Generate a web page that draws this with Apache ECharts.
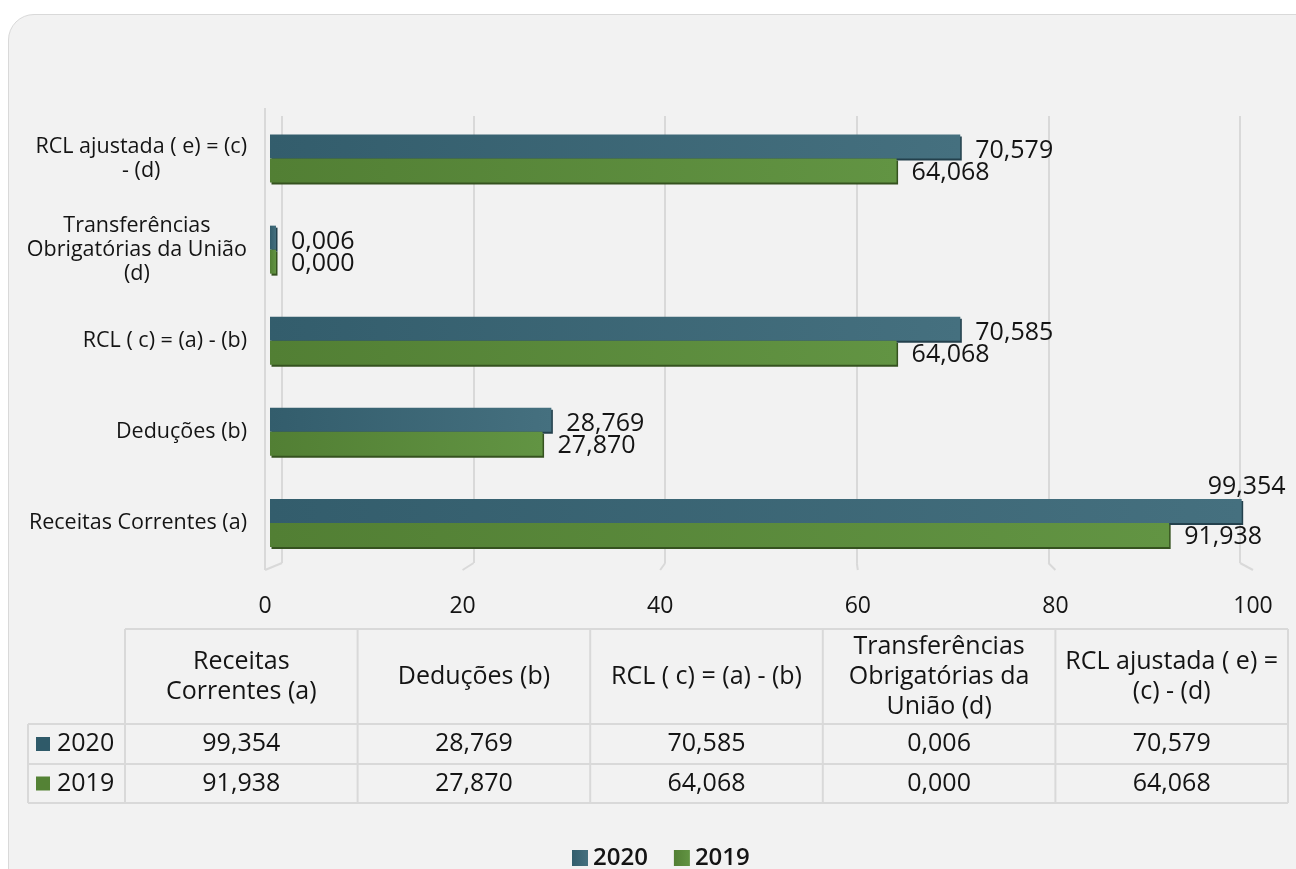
<!DOCTYPE html>
<html>
<head>
<meta charset="utf-8">
<script src="https://cdn.jsdelivr.net/npm/echarts@6/dist/echarts.min.js"></script>
<style>
  html, body { margin: 0; padding: 0; background: #ffffff; overflow: hidden; }
  #panel {
    position: absolute; left: 8px; top: 14px; width: 1330px; height: 900px;
    background: #f2f2f2; border: 1.5px solid #d9d9d9; border-radius: 26px; box-sizing: border-box;
  }
  #chart { position: absolute; left: 0; top: 0; width: 1296px; height: 869px; }
</style>
</head>
<body>
<div id="panel"></div>
<div id="chart"></div>
<script>
// ---- data ----
const categories = [
  'Receitas Correntes (a)',
  'Deduções (b)',
  'RCL ( c) = (a) - (b)',
  'Transferências Obrigatórias da União (d)',
  'RCL ajustada ( e) = (c) - (d)'
];
const axisLabelLines = [
  ['Receitas Correntes (a)'],
  ['Deduções (b)'],
  ['RCL ( c) = (a) - (b)'],
  ['Transferências', 'Obrigatórias da União', '(d)'],
  ['RCL ajustada ( e) = (c)', '- (d)']
];
const tableHeaderLines = [
  ['Receitas', 'Correntes (a)'],
  ['Deduções (b)'],
  ['RCL ( c) = (a) - (b)'],
  ['Transferências', 'Obrigatórias da', 'União (d)'],
  ['RCL ajustada ( e) =', '(c) - (d)']
];
const seriesNames = ['2020', '2019'];
const values2020 = [99.354, 28.769, 70.585, 0.006, 70.579];
const values2019 = [91.938, 27.870, 64.068, 0.000, 64.068];
const xTicks = [0, 20, 40, 60, 80, 100];

// ---- styling ----
const FONT = 'Open Sans';
const TEXT = '#141414';
const GRID_LINE = '#d9d9d9';
const C2020 = '#2f5a69';
const C2019 = '#548235';

// plot layout: bars sit in the middle plane, the back wall carries the grid lines,
// the front floor edge carries the tick labels
const barGrid   = { left: 270, top: 113, width: 978, height: 455.5 };
const backGrid  = { left: 282, top: 116, width: 958, height: 447 };
const frontGrid = { left: 265, top: 108, width: 988, height: 462 };

// data table layout
const table = { left: 28, keyRight: 125, right: 1288, top: 629, headRow: 724, row1: 764, row2: 803 };

const fmt = v => v.toFixed(3).replace('.', ',');

function grad(c1, c2) {
  return new echarts.graphic.LinearGradient(0, 0, 1, 0, [
    { offset: 0, color: c1 }, { offset: 1, color: c2 }
  ]);
}

const chart = echarts.init(document.getElementById('chart'), null, { renderer: 'canvas' });

const gridBox = g => ({ left: g.left, top: g.top, width: g.width, height: g.height, containLabel: false });

const option = {
  backgroundColor: 'transparent',
  animation: false,
  textStyle: { fontFamily: FONT, color: TEXT },
  grid: [gridBox(barGrid), gridBox(backGrid), gridBox(frontGrid)],
  xAxis: [
    { type: 'value', gridIndex: 0, min: 0, max: 100, interval: 20,
      axisLine: { show: false }, axisTick: { show: false }, axisLabel: { show: false },
      splitLine: { show: false } },
    { type: 'value', gridIndex: 1, min: 0, max: 100, interval: 20,
      axisLine: { show: false }, axisTick: { show: false }, axisLabel: { show: false },
      splitLine: { show: true, lineStyle: { color: GRID_LINE, width: 2 } } },
    { type: 'value', gridIndex: 2, min: 0, max: 100, interval: 20,
      axisLine: { show: false }, axisTick: { show: false }, splitLine: { show: false },
      axisLabel: { show: true, margin: 25, fontSize: 23, color: TEXT, fontFamily: FONT,
        customValues: xTicks } }
  ],
  yAxis: [
    { type: 'category', gridIndex: 0, data: categories,
      axisLine: { show: false }, axisTick: { show: false }, splitLine: { show: false },
      axisLabel: {
        margin: 23, align: 'right', color: TEXT, fontSize: 21.5, fontFamily: FONT,
        formatter: (v, i) => axisLabelLines[i].map(l => '{c|' + l + '}').join('\n'),
        rich: { c: { align: 'center', fontSize: 21.5, lineHeight: 24, fontFamily: FONT, color: TEXT } }
      } },
    { type: 'value', gridIndex: 1, show: false, min: 0, max: 1 },
    { type: 'value', gridIndex: 2, show: false, min: 0, max: 1 }
  ],
  legend: {
    data: seriesNames,
    left: 572, top: 846, padding: 0,
    icon: 'rect', itemWidth: 16, itemHeight: 16, itemGap: 26,
    textStyle: { fontSize: 24, fontWeight: 600, color: TEXT, fontFamily: FONT }
  },
  series: [
    {
      name: seriesNames[0], type: 'bar', xAxisIndex: 0, yAxisIndex: 0,
      barWidth: 24, barGap: '0%', barMinHeight: 6,
      itemStyle: { color: grad('#335d6c', '#45707f'),
        shadowColor: '#23404c', shadowOffsetX: 1.5, shadowOffsetY: 2, shadowBlur: 0 },
      label: { show: true, position: 'right', distance: 15, offset: [0, 4],
        fontSize: 25, color: TEXT, fontFamily: FONT, formatter: p => fmt(p.value) },
      data: values2020.map((v, i) => i === 0
        ? { value: v, label: { offset: [-49, -24] } }
        : v),
      z: 2
    },
    {
      name: seriesNames[1], type: 'bar', xAxisIndex: 0, yAxisIndex: 0,
      barWidth: 24, barGap: '0%', barMinHeight: 6,
      itemStyle: { color: grad('#527f34', '#629443'),
        shadowColor: '#35521f', shadowOffsetX: 1.5, shadowOffsetY: 2, shadowBlur: 0 },
      label: { show: true, position: 'right', distance: 15, offset: [0, 2],
        fontSize: 25, color: TEXT, fontFamily: FONT, formatter: p => fmt(p.value) },
      data: values2019,
      z: 3
    }
  ]
};

chart.setOption(option);

// ---- back-wall / floor edges and the data table ----
function buildGraphics() {
  const els = [];
  const line = (x1, y1, x2, y2, color, w) => ({
    type: 'line', silent: true, z: -1,
    shape: { x1, y1, x2, y2 }, style: { stroke: color, lineWidth: w }
  });
  const backBottom = backGrid.top + backGrid.height;
  const frontBottom = frontGrid.top + frontGrid.height;

  // floor edges joining the back wall grid lines to the front edge
  xTicks.forEach(v => {
    const xb = chart.convertToPixel({ xAxisIndex: 1 }, v);
    const xf = chart.convertToPixel({ xAxisIndex: 2 }, v);
    els.push(line(xb, backBottom, xf, frontBottom, GRID_LINE, 2));
  });
  // front edge of the left wall
  const x0 = chart.convertToPixel({ xAxisIndex: 2 }, 0);
  els.push(line(x0, frontGrid.top, x0, frontBottom, GRID_LINE, 2));

  // data table
  const colW = (table.right - table.keyRight) / categories.length;
  const colX = i => table.keyRight + colW * i;
  const tl = (x1, y1, x2, y2) => line(x1, y1, x2, y2, GRID_LINE, 2);
  els.push(tl(table.keyRight, table.top, table.right, table.top));
  els.push(tl(table.left, table.headRow, table.right, table.headRow));
  els.push(tl(table.left, table.row1, table.right, table.row1));
  els.push(tl(table.left, table.row2, table.right, table.row2));
  els.push(tl(table.left, table.headRow, table.left, table.row2));
  for (let i = 0; i <= categories.length; i++) {
    els.push(tl(colX(i), table.top, colX(i), table.row2));
  }
  const txt = (text, x, y, align, size) => ({
    type: 'text', silent: true, z: 5,
    style: { text, x, y, align: align || 'center', verticalAlign: 'middle',
      fontSize: size || 25, fontFamily: FONT, fill: TEXT, lineHeight: 30 }
  });
  tableHeaderLines.forEach((lines, i) => {
    els.push(txt(lines.join('\n'), colX(i) + colW / 2, (table.top + table.headRow) / 2));
  });
  const rows = [
    { name: seriesNames[0], color: C2020, vals: values2020, y: (table.headRow + table.row1) / 2 },
    { name: seriesNames[1], color: C2019, vals: values2019, y: (table.row1 + table.row2) / 2 }
  ];
  rows.forEach(r => {
    els.push({ type: 'rect', silent: true, z: 5,
      shape: { x: table.left + 8, y: r.y - 7, width: 14, height: 14 }, style: { fill: r.color } });
    els.push(txt(r.name, table.left + 29, r.y, 'left', 25));
    r.vals.forEach((v, i) => els.push(txt(fmt(v), colX(i) + colW / 2, r.y)));
  });
  return els;
}

chart.setOption({ graphic: { elements: buildGraphics() } });
</script>
</body>
</html>
